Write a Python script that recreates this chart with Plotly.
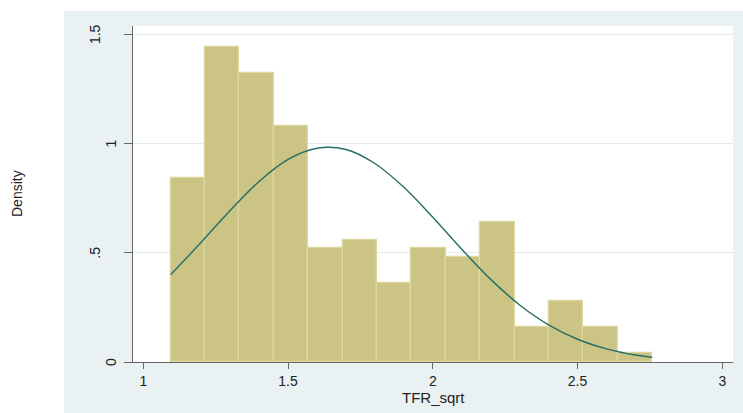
import plotly.graph_objects as go

# ---- data ----
bin_start = 1.0946
bin_width = 0.1188
densities = [0.84, 1.44, 1.32, 1.08, 0.52, 0.56, 0.36, 0.52, 0.48, 0.64, 0.16, 0.28, 0.16, 0.04]

curve_x = [1.095, 1.2, 1.3, 1.4, 1.5, 1.6, 1.7, 1.8, 1.9, 2.0, 2.1, 2.2, 2.3, 2.4, 2.5, 2.6, 2.7, 2.758]
curve_y = [0.400, 0.548, 0.693, 0.826, 0.927, 0.978, 0.972, 0.908, 0.799, 0.662, 0.516, 0.378, 0.261, 0.170, 0.104, 0.060, 0.032, 0.022]

x_ticks = [1, 1.5, 2, 2.5, 3]
x_tick_labels = ["1", "1.5", "2", "2.5", "3"]
y_ticks = [0, 0.5, 1, 1.5]
y_tick_labels = ["0", ".5", "1", "1.5"]

x_title = "TFR_sqrt"
y_title = "Density"

centers = [bin_start + bin_width * (i + 0.5) for i in range(len(densities))]

FONT = "Liberation Sans, Arial, sans-serif"
BG = "#E9F1F3"
W, H = 743, 413
ML, MR, MT, MB = 133, 10, 26, 51
PW = W - ML - MR
PH = H - MT - MB

fig = go.Figure()
fig.add_trace(go.Bar(
    x=centers, y=densities, width=[bin_width] * len(densities),
    marker=dict(color="#CBC484", line=dict(color="#DED8A0", width=1.3)),
    hoverinfo="skip", showlegend=False,
))
fig.add_trace(go.Scatter(
    x=curve_x, y=curve_y, mode="lines",
    line=dict(color="#256E66", width=1.4, shape="spline"),
    hoverinfo="skip", showlegend=False,
))

def px_x(p):
    return (p - ML) / PW

def px_y(p):
    return (H - MB - p) / PH

# y tick labels (rotated), positioned as in reference
label_right = {"0": 121, ".5": 105, "1": 121, "1.5": 105}
annotations = []
for v, t in zip(y_ticks, y_tick_labels):
    annotations.append(dict(
        text=t, x=px_x(label_right[t]), xref="paper", y=v, yref="y",
        xanchor="right", yanchor="middle", textangle=-90, showarrow=False,
        font=dict(family=FONT, size=14, color="#222222"),
    ))
annotations.append(dict(
    text=y_title, x=px_x(17), xref="paper", y=0.5, yref="paper",
    xanchor="center", yanchor="middle", textangle=-90, showarrow=False,
    font=dict(family=FONT, size=14, color="#222222"),
))
annotations.append(dict(
    text=x_title, x=0.5, xref="paper", y=px_y(397), yref="paper",
    xanchor="center", yanchor="middle", showarrow=False,
    font=dict(family=FONT, size=15, color="#222222"),
))

shapes = [
    # white strips left and top of the graph region
    dict(type="rect", xref="paper", yref="paper", layer="below",
         x0=px_x(-5), x1=px_x(64), y0=px_y(H + 5), y1=px_y(-5),
         fillcolor="white", line=dict(width=0)),
    dict(type="rect", xref="paper", yref="paper", layer="below",
         x0=px_x(-5), x1=px_x(W + 5), y0=px_y(11), y1=px_y(-5),
         fillcolor="white", line=dict(width=0)),
]

fig.update_layout(
    width=W, height=H,
    margin=dict(l=ML, r=MR, t=MT, b=MB, pad=0),
    paper_bgcolor=BG, plot_bgcolor="white",
    bargap=0, showlegend=False,
    annotations=annotations, shapes=shapes,
    font=dict(family=FONT, color="#222222"),
)
fig.update_xaxes(
    range=[0.9644, 3.0369], tickvals=x_ticks, ticktext=x_tick_labels,
    ticks="outside", ticklen=6, tickwidth=1, tickcolor="#666666",
    showline=True, linecolor="#666666", linewidth=1,
    showgrid=False, zeroline=False,
    tickfont=dict(family=FONT, size=14, color="#222222"),
)
fig.update_yaxes(
    range=[0, 1.537], tickvals=y_ticks, showticklabels=False,
    ticks="outside", ticklen=8, tickwidth=1, tickcolor="#666666",
    showline=True, linecolor="#666666", linewidth=1,
    showgrid=True, gridcolor="#E3ECEE", gridwidth=1, zeroline=False,
)

fig.write_html(
    "out.html",
    config={"displayModeBar": False},
    post_script="document.body.style.margin='0px';document.body.style.padding='0px';",
)
